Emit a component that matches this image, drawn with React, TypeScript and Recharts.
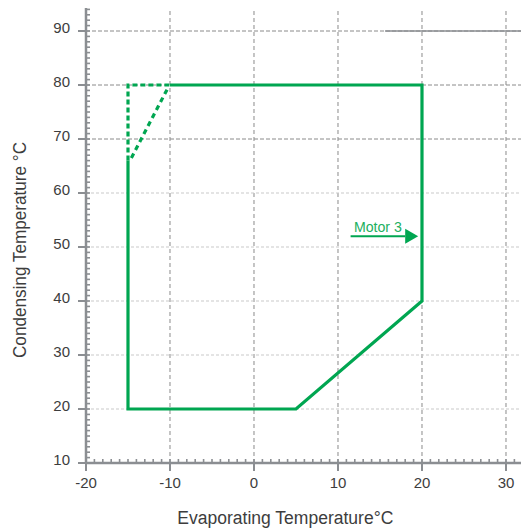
import React from 'react';
import { LineChart, Line, XAxis, YAxis, ReferenceLine, ReferenceDot } from 'recharts';

// ---- data ----
const envelopeSolid = [
  { x: -15, y: 66 },
  { x: -15, y: 20 },
  { x: 5, y: 20 },
  { x: 20, y: 40 },
  { x: 20, y: 80 },
  { x: -10, y: 80 },
];
const envelopeDashedCorner = [
  { x: -15, y: 66 },
  { x: -15, y: 80 },
  { x: -10, y: 80 },
];
const envelopeDashedDiagonal = [
  { x: -14.6, y: 66.5 },
  { x: -10.2, y: 79.6 },
];
const arrowStart = { x: 11.5, y: 52 };
const arrowHead = { x: 18, y: 52 };
const arrowLabel = 'Motor 3';

const xMajorTicks = [-20, -10, 0, 10, 20, 30];
const yMajorTicks = [10, 20, 30, 40, 50, 60, 70, 80, 90];
const xDomain: [number, number] = [-20, 32.74];
const yDomain: [number, number] = [10, 94.26];
const minorStep = 1;
const xMinorTicks: number[] = [];
for (let v = xDomain[0]; v <= 32; v += minorStep) xMinorTicks.push(v);
const yMinorTicks: number[] = [];
for (let v = yDomain[0]; v <= 94; v += minorStep) yMinorTicks.push(v);

const gridX = [-10, 0, 10, 20, 30];
const gridYDark = [70, 80, 90];
const gridYLight = [20, 30, 40, 50, 60];
const topLineSolidFrom = 15.6;

const xTitle = 'Evaporating Temperature°C';
const yTitle = 'Condensing Temperature °C';

// ---- styles ----
const FONT = "'Liberation Sans', Arial, Helvetica, sans-serif";
const GREEN = '#00a651';
const LABEL_GREEN = '#22b060';
const AXIS = '#8b8e92';
const TEXT = '#3d3d3d';
const TICK_SIZE = 8;
const X_TICK_MARGIN = 6;
const Y_TICK_MARGIN = 8;

const XTick = (props: any) => {
  const { x, y, payload } = props;
  const axisY = y - TICK_SIZE - X_TICK_MARGIN;
  const v = payload.value;
  const major = xMajorTicks.includes(v);
  return (
    <g>
      <line x1={x} x2={x} y1={axisY} y2={axisY - 4} stroke={AXIS} strokeWidth={1.6} />
      {major && <line x1={x} x2={x} y1={axisY} y2={axisY + TICK_SIZE} stroke={AXIS} strokeWidth={2} />}
      {major && (
        <text x={x} y={y} dy="0.71em" textAnchor="middle" fill={TEXT} fontSize={15} fontFamily={FONT}>
          {v}
        </text>
      )}
    </g>
  );
};

const YTick = (props: any) => {
  const { x, y, payload } = props;
  const axisX = x + TICK_SIZE + Y_TICK_MARGIN;
  const v = payload.value;
  const major = yMajorTicks.includes(v);
  return (
    <g>
      <line x1={axisX} x2={axisX + 4} y1={y} y2={y} stroke={AXIS} strokeWidth={1.6} />
      {major && <line x1={axisX - TICK_SIZE} x2={axisX} y1={y} y2={y} stroke={AXIS} strokeWidth={2} />}
      {major && (
        <text x={x} y={y} dy="0.15em" textAnchor="end" fill={TEXT} fontSize={15} fontFamily={FONT}>
          {v}
        </text>
      )}
    </g>
  );
};

const ArrowHeadShape = (props: any) => {
  const { cx, cy } = props;
  return <polygon points={`${cx},${cy - 7.5} ${cx + 13},${cy} ${cx},${cy + 7.5}`} fill={GREEN} />;
};

const MotorLabel = (p: any) => {
  const vb = p.viewBox || {};
  const cx = vb.x + (vb.width || 0) / 2;
  const y = vb.y - 4;
  return (
    <text x={cx} y={y} textAnchor="middle" fill={LABEL_GREEN} fontSize={15} fontFamily={FONT} textLength={48} lengthAdjust="spacingAndGlyphs">
      {arrowLabel}
    </text>
  );
};

export default function App() {
  return (
    <LineChart width={521} height={523} margin={{ top: 0, right: 0, bottom: 0, left: 0 }}>
      {gridX.map((v) => (
        <ReferenceLine key={`gx${v}`} x={v} stroke="#8a8a8a" strokeDasharray="4 3" zIndex={-50} />
      ))}
      {gridYDark.map((v) => (
        <ReferenceLine key={`gyd${v}`} y={v} stroke="#8a8a8a" strokeDasharray="4 2" zIndex={-50} />
      ))}
      {gridYLight.map((v) => (
        <ReferenceLine key={`gyl${v}`} y={v} stroke="#c9c9c9" strokeDasharray="3 2" zIndex={-50} />
      ))}
      <ReferenceLine
        segment={[{ x: topLineSolidFrom, y: 90 }, { x: xDomain[1], y: 90 }]}
        stroke={AXIS}
        strokeWidth={1.5}
        zIndex={-50}
      />
      <XAxis
        type="number"
        dataKey="x"
        domain={xDomain}
        allowDataOverflow
        ticks={xMinorTicks}
        interval={0}
        height={68}
        tickSize={TICK_SIZE}
        tickMargin={X_TICK_MARGIN}
        tickLine={false}
        axisLine={{ stroke: AXIS, strokeWidth: 2.5 }}
        tick={<XTick />}
        label={{
          content: (p: any) => {
            const vb = p.viewBox;
            return (
              <text
                x={vb.x + vb.width * 0.45}
                y={vb.y + 61}
                textAnchor="middle"
                fill={TEXT}
                fontSize={18}
                fontFamily={FONT}
                textLength={216}
                lengthAdjust="spacingAndGlyphs"
              >
                {xTitle}
              </text>
            );
          },
        }}
      />
      <YAxis
        type="number"
        dataKey="y"
        domain={yDomain}
        allowDataOverflow
        ticks={yMinorTicks}
        interval={0}
        width={78}
        tickSize={TICK_SIZE}
        tickMargin={Y_TICK_MARGIN}
        tickLine={false}
        axisLine={{ stroke: AXIS, strokeWidth: 2.5 }}
        tick={<YTick />}
        label={{
          content: (p: any) => {
            const vb = p.viewBox;
            const cx = vb.x + 18;
            const cy = vb.y + vb.height / 2 + 14.5;
            return (
              <text
                x={cx}
                y={cy}
                transform={`rotate(-90, ${cx}, ${cy})`}
                textAnchor="middle"
                fill={TEXT}
                fontSize={18}
                fontFamily={FONT}
                textLength={216}
                lengthAdjust="spacingAndGlyphs"
              >
                {yTitle}
              </text>
            );
          },
        }}
      />
      <Line data={envelopeSolid} dataKey="y" type="linear" stroke={GREEN} strokeWidth={3.2} dot={false} isAnimationActive={false} />
      <Line data={envelopeDashedCorner} dataKey="y" type="linear" stroke={GREEN} strokeWidth={3.2} strokeDasharray="5 3" dot={false} isAnimationActive={false} />
      <Line data={envelopeDashedDiagonal} dataKey="y" type="linear" stroke={GREEN} strokeWidth={3.2} strokeDasharray="5 4" dot={false} isAnimationActive={false} />
      <ReferenceLine segment={[arrowStart, arrowHead]} stroke={GREEN} strokeWidth={2} label={{ content: <MotorLabel /> }} />
      <ReferenceDot x={arrowHead.x} y={arrowHead.y} r={1} shape={<ArrowHeadShape />} />
    </LineChart>
  );
}
